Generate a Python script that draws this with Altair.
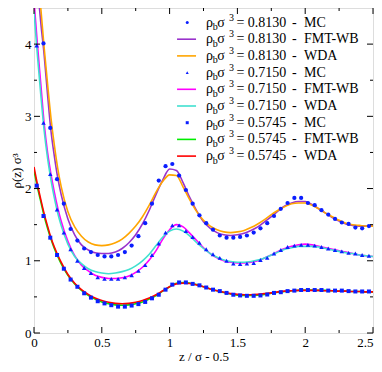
import altair as alt
import pandas as pd

# plot-area size; svg = padding + plot, kept inside the 382x372 window
W, H = 339, 325
PAD_L, PAD_T, PAD_R, PAD_B = 26, 0, 1, 31
FONT = "Liberation Serif"

# ---------------- data ----------------
line_x = [0, 0.025, 0.05, 0.075, 0.1, 0.125, 0.15, 0.175, 0.2,
          0.25, 0.3, 0.35, 0.4, 0.45, 0.5, 0.55, 0.6, 0.65, 0.7,
          0.75, 0.8, 0.85, 0.9, 0.95, 1.0, 1.05, 1.1, 1.15, 1.2,
          1.25, 1.3, 1.35, 1.4, 1.45, 1.5, 1.55, 1.6, 1.65, 1.7,
          1.75, 1.8, 1.85, 1.9, 1.95, 2.0, 2.05, 2.1, 2.15, 2.2,
          2.25, 2.3, 2.35, 2.4, 2.45, 2.5]

fmt_0813 = [5.6, 4.85, 4.3, 3.85, 3.3, 2.8, 2.45, 2.15, 1.92,
            1.58, 1.36, 1.22, 1.15, 1.11, 1.10, 1.10, 1.12, 1.17, 1.25,
            1.36, 1.51, 1.70, 1.92, 2.12, 2.27, 2.25, 2.08, 1.87, 1.69,
            1.54, 1.45, 1.39, 1.36, 1.35, 1.36, 1.38, 1.42, 1.47, 1.54,
            1.61, 1.69, 1.76, 1.80, 1.82, 1.82, 1.78, 1.72, 1.66, 1.60,
            1.55, 1.51, 1.49, 1.48, 1.48, 1.48]
wda_0813 = [5.8, 5.1, 4.5, 3.95, 3.45, 2.98, 2.6, 2.28, 2.03,
            1.68, 1.47, 1.34, 1.26, 1.22, 1.21, 1.22, 1.25, 1.30, 1.38,
            1.48, 1.61, 1.77, 1.95, 2.10, 2.19, 2.18, 2.02, 1.84, 1.68,
            1.56, 1.48, 1.43, 1.40, 1.39, 1.40, 1.42, 1.46, 1.51, 1.57,
            1.64, 1.70, 1.75, 1.79, 1.80, 1.80, 1.77, 1.72, 1.66, 1.61,
            1.56, 1.52, 1.50, 1.49, 1.48, 1.48]
fmt_0715 = [4.6, 4.0, 3.45, 2.9, 2.5, 2.2, 1.95, 1.73, 1.55,
            1.27, 1.07, 0.94, 0.86, 0.80, 0.77, 0.755, 0.755, 0.765, 0.79,
            0.84, 0.91, 1.01, 1.14, 1.30, 1.43, 1.50, 1.47, 1.38, 1.28,
            1.18, 1.10, 1.04, 1.00, 0.98, 0.97, 0.97, 0.98, 1.00, 1.04,
            1.08, 1.13, 1.17, 1.20, 1.22, 1.23, 1.22, 1.20, 1.18, 1.16,
            1.14, 1.12, 1.10, 1.08, 1.07, 1.06]
wda_0715 = [4.45, 3.85, 3.3, 2.8, 2.42, 2.12, 1.87, 1.66, 1.49,
            1.23, 1.06, 0.96, 0.89, 0.85, 0.83, 0.82, 0.83, 0.85, 0.88,
            0.93, 1.00, 1.09, 1.21, 1.33, 1.41, 1.44, 1.41, 1.34, 1.25,
            1.17, 1.10, 1.05, 1.01, 0.99, 0.98, 0.98, 0.99, 1.01, 1.04,
            1.08, 1.12, 1.16, 1.18, 1.20, 1.20, 1.20, 1.19, 1.17, 1.15,
            1.13, 1.11, 1.10, 1.08, 1.07, 1.06]
fmt_05745 = [2.25, 2.02, 1.82, 1.62, 1.45, 1.30, 1.17, 1.06, 0.96,
             0.80, 0.68, 0.59, 0.52, 0.47, 0.43, 0.405, 0.39, 0.385, 0.39,
             0.405, 0.43, 0.47, 0.52, 0.58, 0.64, 0.69, 0.70, 0.69, 0.67,
             0.64, 0.61, 0.585, 0.56, 0.54, 0.525, 0.52, 0.52, 0.525, 0.535,
             0.55, 0.565, 0.575, 0.585, 0.59, 0.595, 0.595, 0.59, 0.59, 0.585,
             0.58, 0.58, 0.575, 0.575, 0.57, 0.57]
wda_05745 = [2.3, 2.06, 1.85, 1.65, 1.48, 1.32, 1.19, 1.08, 0.98,
             0.81, 0.69, 0.60, 0.535, 0.485, 0.45, 0.425, 0.41, 0.405, 0.41,
             0.425, 0.45, 0.485, 0.53, 0.585, 0.64, 0.68, 0.69, 0.685, 0.665,
             0.64, 0.61, 0.585, 0.565, 0.545, 0.535, 0.53, 0.53, 0.535, 0.545,
             0.555, 0.57, 0.58, 0.585, 0.59, 0.59, 0.59, 0.59, 0.585, 0.585,
             0.58, 0.58, 0.575, 0.575, 0.57, 0.57]

mc_x = [0.02, 0.07, 0.12, 0.17, 0.22, 0.27, 0.32, 0.37, 0.42, 0.47,
        0.52, 0.57, 0.62, 0.67, 0.72, 0.77, 0.82, 0.87, 0.92, 0.97,
        1.02, 1.07, 1.12, 1.17, 1.22, 1.27, 1.32, 1.37, 1.42, 1.47,
        1.52, 1.57, 1.62, 1.67, 1.72, 1.77, 1.82, 1.87, 1.92, 1.97,
        2.02, 2.07, 2.12, 2.17, 2.22, 2.27, 2.32, 2.37, 2.42, 2.47]
mc_0813 = [5.2, 4.01, 2.84, 2.13, 1.79, 1.44, 1.28, 1.17, 1.12, 1.08,
           1.06, 1.06, 1.08, 1.12, 1.21, 1.34, 1.52, 1.79, 2.11, 2.31,
           2.34, 2.18, 1.98, 1.79, 1.63, 1.52, 1.43, 1.35, 1.32, 1.32,
           1.33, 1.35, 1.39, 1.45, 1.52, 1.62, 1.72, 1.80, 1.87, 1.87,
           1.80, 1.77, 1.70, 1.64, 1.58, 1.53, 1.51, 1.46, 1.45, 1.48]
mc_0715 = [3.98, 2.91, 2.20, 1.71, 1.39, 1.16, 1.00, 0.90, 0.83, 0.77,
           0.75, 0.75, 0.75, 0.77, 0.80, 0.86, 0.94, 1.08, 1.24, 1.39,
           1.49, 1.49, 1.41, 1.33, 1.25, 1.16, 1.09, 1.04, 1.00, 0.96,
           0.955, 0.96, 0.97, 1.01, 1.04, 1.10, 1.15, 1.19, 1.21, 1.22,
           1.22, 1.21, 1.19, 1.17, 1.15, 1.13, 1.11, 1.10, 1.08, 1.07]
mc_05745 = [2.04, 1.62, 1.32, 1.08, 0.89, 0.74, 0.64, 0.55, 0.49, 0.44,
            0.41, 0.385, 0.365, 0.365, 0.38, 0.40, 0.43, 0.48, 0.53, 0.60,
            0.67, 0.70, 0.70, 0.68, 0.66, 0.63, 0.60, 0.58, 0.555, 0.53,
            0.52, 0.515, 0.515, 0.52, 0.533, 0.555, 0.565, 0.58, 0.587, 0.595,
            0.595, 0.595, 0.595, 0.587, 0.587, 0.587, 0.58, 0.575, 0.575, 0.575]

x_major = [0, 0.5, 1, 1.5, 2, 2.5]
x_minor = [0.25, 0.75, 1.25, 1.75, 2.25]
y_major = [0, 1, 2, 3, 4]
y_minor = [0.5, 1.5, 2.5, 3.5]

legend_density = ["0.8130", "0.8130", "0.8130", "0.7150", "0.7150", "0.7150",
                  "0.5745", "0.5745", "0.5745"]
legend_method = ["MC", "FMT-WB", "WDA"] * 3

BLUE = "#0a1eff"
line_series = [
    ("fmt_0813", fmt_0813, "#9932cc"),
    ("wda_0813", wda_0813, "#ffa500"),
    ("fmt_0715", fmt_0715, "#ff00ff"),
    ("wda_0715", wda_0715, "#40e0d0"),
    ("fmt_05745", fmt_05745, "#00ee00"),
    ("wda_05745", wda_05745, "#ff0000"),
]
point_series = [
    ("mc_0813", mc_0813, "circle", 18),
    ("mc_0715", mc_0715, "triangle-up", 20),
    ("mc_05745", mc_05745, "square", 16),
]
legend_kinds = [("point", "circle"), ("line", "#9932cc"), ("line", "#ffa500"),
                ("point", "triangle-up"), ("line", "#ff00ff"), ("line", "#40e0d0"),
                ("point", "square"), ("line", "#00ee00"), ("line", "#ff0000")]

# ---------------- scales / axes ----------------
xs = alt.Scale(domain=[0, 2.5], nice=False, zero=False)
ys = alt.Scale(domain=[0, 4.5], nice=False, zero=False)

xaxis = alt.Axis(values=x_major, format="~g", ticks=False, domain=False, grid=False,
                 labelFont=FONT, labelFontSize=13, labelColor="black", labelPadding=3,
                 labelFlush=False, labelOverlap=False,
                 labelAlign={"condition": {"test": "datum.value >= 2.5", "value": "right"},
                             "value": "center"},
                 title="z / σ - 0.5", titleFont=FONT, titleFontSize=13,
                 titleFontWeight="normal", titleColor="black", titlePadding=1)
yaxis = alt.Axis(values=y_major, format="~g", ticks=False, domain=False, grid=False,
                 labelFont=FONT, labelFontSize=13, labelColor="black", labelPadding=3,
                 labelFlush=False, labelOverlap=False,
                 title="ρ(z) σ³", titleFont=FONT, titleFontSize=13,
                 titleFontWeight="normal", titleColor="black", titlePadding=1)


def X(field="x"):
    return alt.X(f"{field}:Q", scale=xs, axis=xaxis)


def Y(field="y"):
    return alt.Y(f"{field}:Q", scale=ys, axis=yaxis)


layers = []

for name, ys_vals, col in line_series:
    df = pd.DataFrame({"x": line_x, "y": ys_vals})
    layers.append(alt.Chart(df).mark_line(color=col, strokeWidth=1.6, clip=True,
                                          interpolate="monotone").encode(x=X(), y=Y()))

for name, ys_vals, shape, size in point_series:
    df = pd.DataFrame({"x": mc_x, "y": ys_vals})
    layers.append(alt.Chart(df).mark_point(shape=shape, filled=True, color=BLUE, opacity=1,
                                           size=size, clip=True).encode(x=X(), y=Y()))

# ticks (inward, all four sides)
for vals, ln in [(x_major, 6), (x_minor, 3)]:
    d = pd.DataFrame({"x": vals})
    layers.append(alt.Chart(d).mark_rule(color="black", strokeWidth=1).encode(
        x=X(), y=alt.value(H), y2=alt.value(H - ln)))
    layers.append(alt.Chart(d).mark_rule(color="black", strokeWidth=1).encode(
        x=X(), y=alt.value(0), y2=alt.value(ln)))
for vals, ln in [(y_major, 6), (y_minor, 3)]:
    d = pd.DataFrame({"y": vals})
    layers.append(alt.Chart(d).mark_rule(color="black", strokeWidth=1).encode(
        y=Y(), x=alt.value(0), x2=alt.value(ln)))
    layers.append(alt.Chart(d).mark_rule(color="black", strokeWidth=1).encode(
        y=Y(), x=alt.value(W), x2=alt.value(W - ln)))

# legend rows, upper right (row spacing ~16.7 px)
row_px = 16.7
px_per_unit = H / 4.5
LEG_Y0 = 4.5 - 14.5 / px_per_unit
LEG_DY = row_px / px_per_unit
LEG_MARK_X, LEG_L1, LEG_L2, LEG_TX = 1.13, 1.055, 1.195, 1.268
rows = []
for i, (dens, meth, kind) in enumerate(zip(legend_density, legend_method, legend_kinds)):
    rows.append({"y": LEG_Y0 - LEG_DY * i, "dens": dens, "meth": meth,
                 "kind": kind[0], "attr": kind[1]})
leg = pd.DataFrame(rows)

for i, r in leg.iterrows():
    if r["kind"] == "point":
        d = pd.DataFrame({"x": [LEG_MARK_X], "y": [r["y"]]})
        layers.append(alt.Chart(d).mark_point(shape=r["attr"], filled=True, color=BLUE,
                                              opacity=1, size=9).encode(x=X(), y=Y()))
    else:
        d = pd.DataFrame({"x": [LEG_L1, LEG_L2], "y": [r["y"], r["y"]]})
        layers.append(alt.Chart(d).mark_line(color=r["attr"], strokeWidth=1.6).encode(
            x=X(), y=Y()))

leg = leg.assign(x=LEG_TX, eq=["= " + v for v in legend_density])
pieces = [("ρ", 0, 0, 14, None), ("b", 6.8, 4.5, 10, None), ("σ", 11.4, 0, 14, None),
          ("3", 23, -5, 10, None), (None, 30.5, 0, 14, "eq"), ("-", 86, 0, 14, None),
          (None, 98, 0, 14, "meth")]
for txt, dx, dy, fs, field in pieces:
    kw = dict(align="left", baseline="middle", font=FONT, fontSize=fs, color="black",
              dx=dx, dy=dy)
    if field is None:
        kw["text"] = txt
        layers.append(alt.Chart(leg).mark_text(**kw).encode(x=X(), y=Y()))
    else:
        layers.append(alt.Chart(leg).mark_text(**kw).encode(x=X(), y=Y(), text=f"{field}:N"))

chart = alt.layer(*layers).properties(
    width=W, height=H,
    autosize=alt.AutoSizeParams(type="none"),
    padding={"left": PAD_L, "top": PAD_T, "right": PAD_R, "bottom": PAD_B},
).configure_view(stroke="black", strokeWidth=2).configure(background="white")

chart.save("out.html", embed_options={"renderer": "svg", "actions": False})
